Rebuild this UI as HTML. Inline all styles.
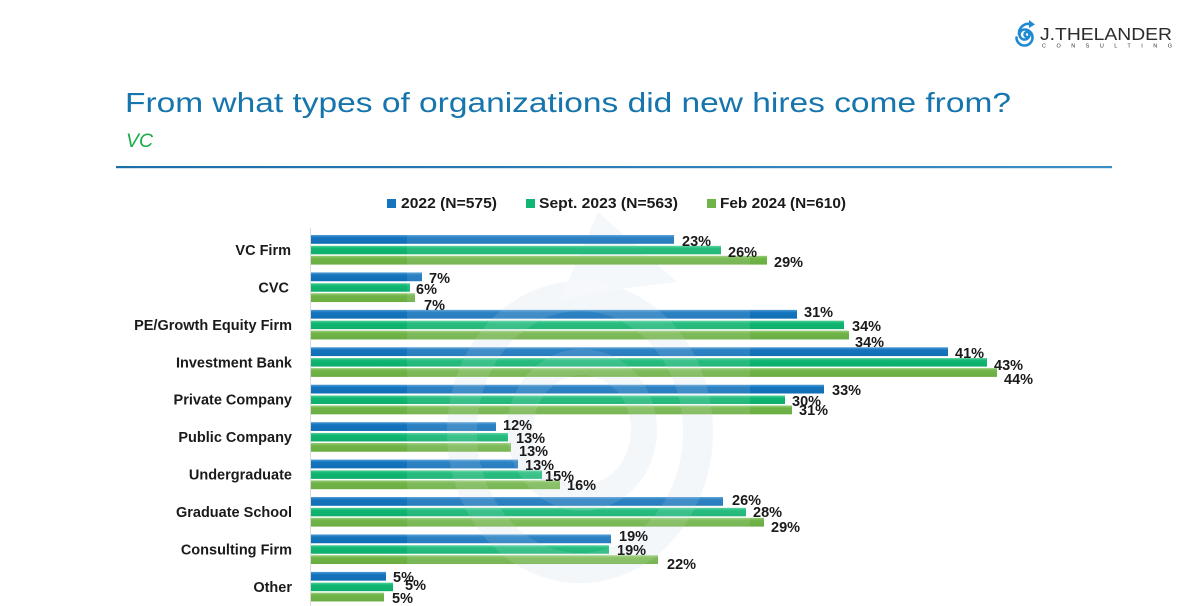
<!DOCTYPE html>
<html><head><meta charset="utf-8"><style>
html,body{margin:0;padding:0;background:#fff;}
svg{display:block;}
text{font-family:"Liberation Sans",Arial,sans-serif;}
.c{font-weight:bold;font-size:14.5px;fill:#1a1a1a;text-anchor:end;}
.v{font-weight:bold;font-size:14.5px;fill:#1a1a1a;}
</style></head><body>
<svg width="1200" height="606" viewBox="0 0 1200 606" xmlns="http://www.w3.org/2000/svg">
<defs>
<linearGradient id="gb" x1="0" y1="0" x2="0" y2="1"><stop offset="0" stop-color="#4f9bd6"/><stop offset="0.3" stop-color="#1474bd"/><stop offset="1" stop-color="#126fb6"/></linearGradient>
<linearGradient id="gg" x1="0" y1="0" x2="0" y2="1"><stop offset="0" stop-color="#4fcf98"/><stop offset="0.3" stop-color="#0fb672"/><stop offset="1" stop-color="#0eae6b"/></linearGradient>
<linearGradient id="gl" x1="0" y1="0" x2="0" y2="1"><stop offset="0" stop-color="#98cc78"/><stop offset="0.3" stop-color="#70b448"/><stop offset="1" stop-color="#6aad42"/></linearGradient>
<linearGradient id="ln" x1="0" y1="0" x2="1" y2="0"><stop offset="0" stop-color="#1a6fa8"/><stop offset="1" stop-color="#3c8ec6"/></linearGradient>
</defs>

<!-- logo -->
<g fill="none" stroke="#1f8ad2" stroke-width="2.6" stroke-linecap="round">
<path d="M1027 37 a2.5 2.5 0 1 1 2.5 -2.5 a5 5 0 1 1 -5 -5 a8 8 0 1 1 -8 8"/>
<path d="M1019 34 A9.5 9.5 0 0 1 1030 24"/>
</g>
<polygon points="1029,20 1035,24.5 1029,28" fill="#1f8ad2"/>
<text x="1040" y="40" font-size="17.5" fill="#2b2b2b" textLength="132" lengthAdjust="spacingAndGlyphs">J.THELANDER</text>
<text x="1042" y="47.5" font-size="5.5" fill="#333" textLength="130" lengthAdjust="spacing">CONSULTING</text>

<!-- title -->
<text x="125" y="112" font-size="28" fill="#1675ad" textLength="886" lengthAdjust="spacingAndGlyphs">From what types of organizations did new hires come from?</text>
<text x="126" y="147" font-size="19" font-style="italic" fill="#1bab4b" textLength="27" lengthAdjust="spacingAndGlyphs">VC</text>
<rect x="116" y="166" width="996" height="2.2" fill="url(#ln)"/>

<!-- legend -->
<rect x="387" y="199" width="9" height="9" fill="#1474bd"/>
<text class="v" x="401" y="208" textLength="96" lengthAdjust="spacingAndGlyphs">2022 (N=575)</text>
<rect x="526" y="199" width="9" height="9" fill="#12b674"/>
<text class="v" x="539" y="208" textLength="139" lengthAdjust="spacingAndGlyphs">Sept. 2023 (N=563)</text>
<rect x="707" y="199" width="9" height="9" fill="#6fb447"/>
<text class="v" x="720" y="208" textLength="126" lengthAdjust="spacingAndGlyphs">Feb 2024 (N=610)</text>

<!-- watermark behind -->
<g fill="none" stroke="#f1f6fa">
<ellipse cx="580" cy="432" rx="118" ry="136" stroke-width="30"/>
<ellipse cx="582" cy="430" rx="62" ry="68" stroke-width="26"/>
</g>
<polygon points="598,212 677,282 610,290 560,300" fill="#f4f8fb"/>

<!-- axis -->
<line x1="310.5" y1="228" x2="310.5" y2="606" stroke="#d9d9d9" stroke-width="1"/>

<!-- bars -->
<g>
<rect x="311" y="235" width="363" height="8.8" fill="url(#gb)"/><rect x="311" y="245.8" width="410" height="8.5" fill="url(#gg)"/><rect x="311" y="255.8" width="456" height="8.8" fill="url(#gl)"/>
<rect x="311" y="272.43" width="111" height="8.8" fill="url(#gb)"/><rect x="311" y="283.23" width="99" height="8.5" fill="url(#gg)"/><rect x="311" y="293.23" width="104" height="8.8" fill="url(#gl)"/>
<rect x="311" y="309.86" width="486" height="8.8" fill="url(#gb)"/><rect x="311" y="320.66" width="533" height="8.5" fill="url(#gg)"/><rect x="311" y="330.66" width="538" height="8.8" fill="url(#gl)"/>
<rect x="311" y="347.29" width="637" height="8.8" fill="url(#gb)"/><rect x="311" y="358.09" width="676" height="8.5" fill="url(#gg)"/><rect x="311" y="368.09" width="686" height="8.8" fill="url(#gl)"/>
<rect x="311" y="384.72" width="513" height="8.8" fill="url(#gb)"/><rect x="311" y="395.52" width="474" height="8.5" fill="url(#gg)"/><rect x="311" y="405.52" width="481" height="8.8" fill="url(#gl)"/>
<rect x="311" y="422.15" width="185" height="8.8" fill="url(#gb)"/><rect x="311" y="432.95" width="197" height="8.5" fill="url(#gg)"/><rect x="311" y="442.95" width="200" height="8.8" fill="url(#gl)"/>
<rect x="311" y="459.58" width="207" height="8.8" fill="url(#gb)"/><rect x="311" y="470.38" width="231" height="8.5" fill="url(#gg)"/><rect x="311" y="480.38" width="249" height="8.8" fill="url(#gl)"/>
<rect x="311" y="497.01" width="412" height="8.8" fill="url(#gb)"/><rect x="311" y="507.81" width="435" height="8.5" fill="url(#gg)"/><rect x="311" y="517.81" width="453" height="8.8" fill="url(#gl)"/>
<rect x="311" y="534.44" width="300" height="8.8" fill="url(#gb)"/><rect x="311" y="545.24" width="298" height="8.5" fill="url(#gg)"/><rect x="311" y="555.24" width="347" height="8.8" fill="url(#gl)"/>
<rect x="311" y="571.87" width="75" height="8.8" fill="url(#gb)"/><rect x="311" y="582.67" width="82" height="8.5" fill="url(#gg)"/><rect x="311" y="592.67" width="73" height="8.8" fill="url(#gl)"/>
</g>

<!-- watermark overlay -->
<rect x="407" y="230" width="343" height="376" fill="#ffffff" fill-opacity="0.1"/>
<g fill="none" stroke="#ffffff" stroke-opacity="0.1">
<ellipse cx="580" cy="432" rx="118" ry="136" stroke-width="30"/>
<ellipse cx="582" cy="430" rx="62" ry="68" stroke-width="26"/>
</g>

<!-- category labels -->
<text class="c" x="291" y="255">VC Firm</text>
<text class="c" x="289" y="292.4">CVC</text>
<text class="c" x="292" y="329.9">PE/Growth Equity Firm</text>
<text class="c" x="292" y="367.3">Investment Bank</text>
<text class="c" x="292" y="404.7">Private Company</text>
<text class="c" x="292" y="442.2">Public Company</text>
<text class="c" x="292" y="479.6">Undergraduate</text>
<text class="c" x="292" y="517">Graduate School</text>
<text class="c" x="292" y="554.4">Consulting Firm</text>
<text class="c" x="292" y="591.9">Other</text>

<!-- value labels -->
<text class="v" x="682" y="246">23%</text><text class="v" x="728" y="257">26%</text><text class="v" x="774" y="267">29%</text>
<text class="v" x="429" y="283">7%</text><text class="v" x="416" y="294">6%</text><text class="v" x="424" y="310">7%</text>
<text class="v" x="804" y="317">31%</text><text class="v" x="852" y="331">34%</text><text class="v" x="855" y="347">34%</text>
<text class="v" x="955" y="358">41%</text><text class="v" x="994" y="370">43%</text><text class="v" x="1004" y="384">44%</text>
<text class="v" x="832" y="395">33%</text><text class="v" x="792" y="406">30%</text><text class="v" x="799" y="415">31%</text>
<text class="v" x="503" y="430">12%</text><text class="v" x="516" y="443">13%</text><text class="v" x="519" y="456">13%</text>
<text class="v" x="525" y="470">13%</text><text class="v" x="545" y="481">15%</text><text class="v" x="567" y="490">16%</text>
<text class="v" x="732" y="505">26%</text><text class="v" x="753" y="517">28%</text><text class="v" x="771" y="532">29%</text>
<text class="v" x="619" y="541">19%</text><text class="v" x="617" y="555">19%</text><text class="v" x="667" y="569">22%</text>
<text class="v" x="393" y="582">5%</text><text class="v" x="405" y="590">5%</text><text class="v" x="392" y="603">5%</text>
</svg>
</body></html>
